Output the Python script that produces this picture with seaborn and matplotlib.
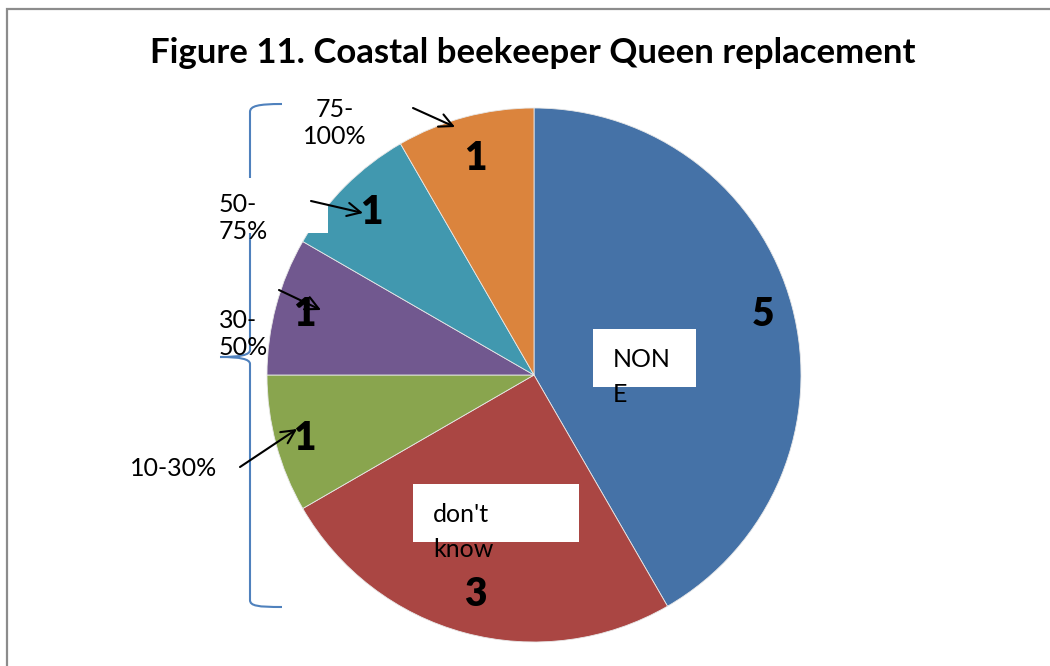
import matplotlib
matplotlib.use("Agg")
import matplotlib.pyplot as plt
import seaborn as sns
from matplotlib.patches import Rectangle, PathPatch
from matplotlib.path import Path

# ---- data ----
categories = ["NONE", "don't know", "10-30%", "30-50%", "50-75%", "75-100%"]
counts = [5, 3, 1, 1, 1, 1]
colors = ["#4572A7", "#AA4643", "#89A54E", "#71588F", "#4198AF", "#DB843D"]
title = "Figure 11. Coastal beekeeper Queen replacement"

sns.set_theme(style="white")
plt.rcParams['font.family'] = ['Lato', 'DejaVu Sans']
plt.rcParams['text.color'] = 'black'

W, H = 1050, 666
CX, CY, R = 534, 375, 267

fig = plt.figure(figsize=(W / 100, H / 100), dpi=100)
ax = fig.add_axes([0, 0, 1, 1])

def P(px, py):
    return ((px - CX) / R, (CY - py) / R)

pal = sns.color_palette(colors)
ax.pie(counts, colors=pal, startangle=90, counterclock=False, radius=1,
       wedgeprops=dict(linewidth=0.6, edgecolor="#e8e8e8"))
ax.set_xlim(-CX / R, (W - CX) / R)
ax.set_ylim(-(H - CY) / R, CY / R)
ax.set_aspect('auto')
ax.axis('off')

# figure border
fig.add_artist(Rectangle((7 / W, -0.1), 1.2, (H - 9) / H + 0.1, transform=fig.transFigure,
                         fill=False, edgecolor="#8c8c8c", linewidth=1.6))

ax.text(*P(533, 53), title, ha='center', va='center', fontsize=25.0,
        fontweight='bold', color='black')

# brace
bl = 250
verts = [P(282, 104), P(258, 104), P(bl, 106), P(bl, 112),
         P(bl, 350),
         P(bl, 355), P(240, 357), P(220, 357),
         P(240, 357), P(bl, 359), P(bl, 364),
         P(bl, 600),
         P(bl, 606), P(258, 607), P(282, 607)]
codes = [Path.MOVETO, Path.CURVE4, Path.CURVE4, Path.CURVE4,
         Path.LINETO,
         Path.CURVE4, Path.CURVE4, Path.CURVE4,
         Path.CURVE4, Path.CURVE4, Path.CURVE4,
         Path.LINETO,
         Path.CURVE4, Path.CURVE4, Path.CURVE4]
ax.add_patch(PathPatch(Path(verts, codes), fill=False, edgecolor="#4F81BD",
                       linewidth=1.5, zorder=3))

# white label boxes
def box(x0, y0, x1, y1):
    xa, ya = P(x0, y1)
    xb, yb = P(x1, y0)
    ax.add_patch(Rectangle((xa, ya), xb - xa, yb - ya, facecolor='white',
                           edgecolor='none', zorder=4))

box(213, 178, 328, 233)
box(593, 329, 696, 387)
box(413, 484, 579, 542)

lab_fs = 18
ax.text(*P(335, 123), "75-\n100%", ha='center', va='center', fontsize=lab_fs,
        linespacing=1.2, zorder=6)
ax.text(*P(219, 218), "50-\n75%", ha='left', va='center', fontsize=lab_fs,
        linespacing=1.2, zorder=6)
ax.text(*P(219, 334), "30-\n50%", ha='left', va='center', fontsize=lab_fs,
        linespacing=1.2, zorder=6)
ax.text(*P(130, 469), "10-30%", ha='left', va='center', fontsize=lab_fs, zorder=6)
ax.text(*P(613, 377), "NON\nE", ha='left', va='center', fontsize=lab_fs,
        linespacing=1.65, zorder=6)
ax.text(*P(433, 532), "don't\nknow", ha='left', va='center', fontsize=lab_fs,
        linespacing=1.65, zorder=6)

# value labels
val_pos = [(763, 315), (475, 595), (304, 438), (304, 315), (371, 213), (475, 158)]
for v, (px, py) in zip(counts, val_pos):
    ax.text(*P(px, py), str(v), ha='center', va='center', fontsize=28,
            fontweight='heavy', zorder=6)

# arrows
arrows = [((413, 108), (455, 127)), ((311, 201), (363, 213)),
          ((279, 290), (321, 310)), ((240, 467), (297, 429))]
for (sx, sy), (ex, ey) in arrows:
    ax.annotate("", xy=P(ex, ey), xytext=P(sx, sy),
                arrowprops=dict(arrowstyle="->,head_length=0.8,head_width=0.4",
                                color='black', lw=1.5, shrinkA=0, shrinkB=0),
                zorder=7)

fig.savefig("out.png", dpi=100)
